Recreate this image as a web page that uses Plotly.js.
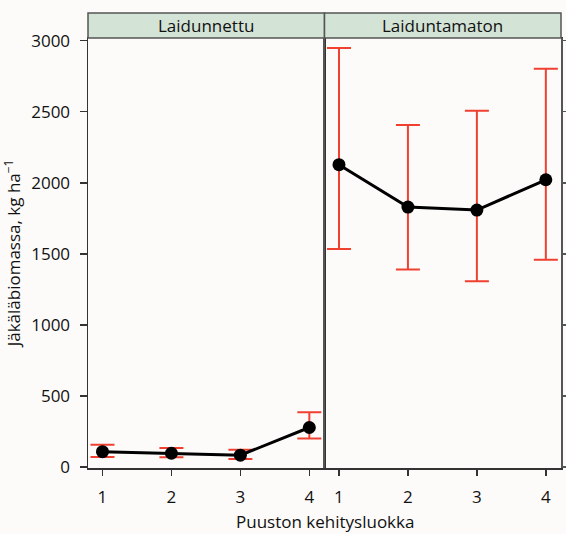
<!DOCTYPE html>
<html>
<head>
<meta charset="utf-8">
<script src="https://cdn.plot.ly/plotly-3.0.1.min.js"></script>
<style>html,body{margin:0;padding:0;background:#fcfbfa;}</style>
</head>
<body>
<div id="chart" style="width:566px;height:534px;"></div>
<script>
const classes = [1, 2, 3, 4];
const panelNames = ["Laidunnettu", "Laiduntamaton"];
const grazedMean = [107, 96, 82, 277];
const grazedUpper = [155, 132, 120, 385];
const grazedLower = [70, 68, 56, 200];
const ungrazedMean = [2127, 1829, 1808, 2021];
const ungrazedUpper = [2948, 2407, 2506, 2802];
const ungrazedLower = [1533, 1390, 1306, 1458];
const yTicks = [0, 500, 1000, 1500, 2000, 2500, 3000];
const yTitle = "Jäkäläbiomassa, kg ha<sup>−1</sup>";
const xTitle = "Puuston kehitysluokka";

const red = "#ef4030";
function trace(mean, upper, lower, xa, ya) {
  return {
    x: classes, y: mean, xaxis: xa, yaxis: ya,
    type: "scatter", mode: "lines+markers",
    line: {color: "#000", width: 3},
    marker: {color: "#000", size: 13},
    error_y: {
      type: "data", symmetric: false,
      array: upper.map((u, i) => u - mean[i]),
      arrayminus: mean.map((m, i) => m - lower[i]),
      color: red, thickness: 2, width: 12
    },
    showlegend: false, hoverinfo: "x+y"
  };
}

const font = {family: "Open Sans, sans-serif", size: 17, color: "#111"};
const stripTop = 1 + 25 / 429.5;
const axisLine = "#333";

const xBase = {
  range: [0.79, 4.22], tickvals: classes, ticktext: classes.map(String),
  showline: true, linecolor: axisLine, linewidth: 1.5, mirror: true,
  ticks: "outside", ticklen: 6, tickcolor: axisLine, tickwidth: 1.5,
  showgrid: false, zeroline: false, tickfont: font, ticklabelstandoff: 7
};
const yBase = {
  range: [-8, 3019], tickvals: yTicks,
  showline: true, linecolor: axisLine, linewidth: 1.5, mirror: true,
  ticks: "outside", ticklen: 7, tickcolor: axisLine, tickwidth: 1.5,
  showgrid: false, zeroline: false, tickfont: font
};

const layout = {
  width: 566, height: 534,
  margin: {l: 88, r: 5, t: 38, b: 66},
  paper_bgcolor: "#fcfbfa", plot_bgcolor: "#fcfbfa",
  font: font,
  xaxis: Object.assign({}, xBase, {domain: [0, 0.5], anchor: "y"}),
  xaxis2: Object.assign({}, xBase, {domain: [0.5, 1], anchor: "y2"}),
  yaxis: Object.assign({}, yBase, {anchor: "x", ticklabelstandoff: 6,
    title: {text: yTitle, font: font, standoff: 6}}),
  yaxis2: Object.assign({}, yBase, {anchor: "x2", side: "right", showticklabels: false,
    linecolor: "#555", tickcolor: "#555", ticklen: 5}),
  shapes: [
    {type: "rect", xref: "paper", yref: "paper", x0: 0, x1: 0.5, y0: 1, y1: stripTop,
     fillcolor: "#d3e3d6", line: {color: "#555", width: 1.5}},
    {type: "rect", xref: "paper", yref: "paper", x0: 0.5, x1: 1, y0: 1, y1: stripTop,
     fillcolor: "#d3e3d6", line: {color: "#555", width: 1.5}}
  ],
  annotations: [
    {text: panelNames[0], xref: "paper", yref: "paper", x: 0.25, y: (1 + stripTop) / 2,
     xanchor: "center", yanchor: "middle", showarrow: false, font: font},
    {text: panelNames[1], xref: "paper", yref: "paper", x: 0.75, y: (1 + stripTop) / 2,
     xanchor: "center", yanchor: "middle", showarrow: false, font: font},
    {text: xTitle, xref: "paper", yref: "paper", x: 0.5, y: -0.125,
     xanchor: "center", yanchor: "middle", showarrow: false, font: font}
  ]
};

Plotly.newPlot("chart", [
  trace(grazedMean, grazedUpper, grazedLower, "x", "y"),
  trace(ungrazedMean, ungrazedUpper, ungrazedLower, "x2", "y2")
], layout, {displayModeBar: false, staticPlot: true});
</script>
</body>
</html>
